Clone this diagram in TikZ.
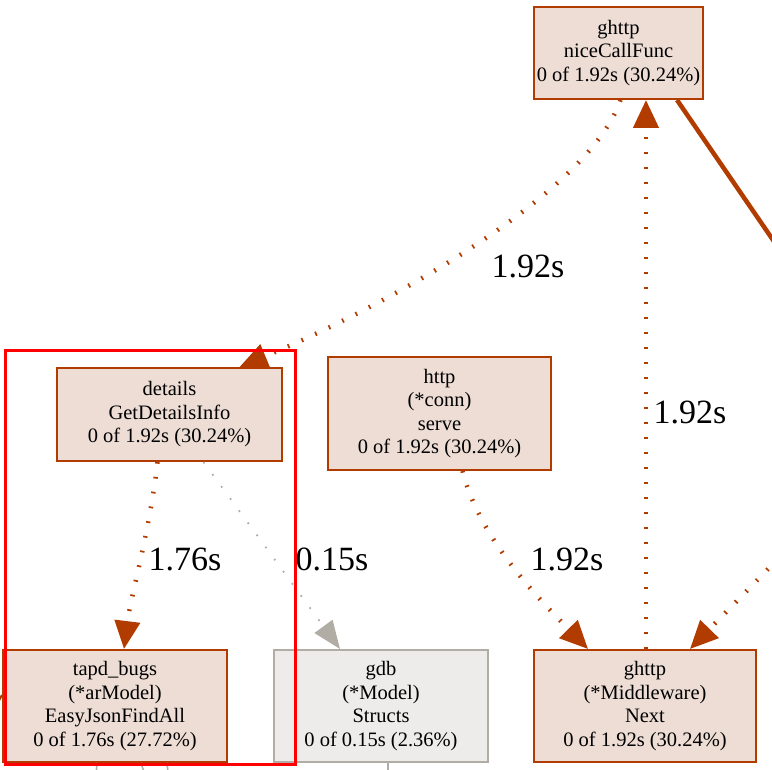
\documentclass[tikz,border=0pt]{standalone}
\usepackage{fontspec}
\setmainfont{Liberation Serif}
\usetikzlibrary{arrows.meta}
\definecolor{edgebrown}{HTML}{B23C00}
\definecolor{fillbrown}{HTML}{EDDDD5}
\definecolor{edgegray}{HTML}{B2ADA4}
\definecolor{fillgray}{HTML}{EDECEA}
\tikzset{
  fnode/.style={draw=edgebrown, fill=fillbrown, line width=2pt, inner sep=0pt, align=center,
     font=\fontsize{20.5}{23.5}\selectfont},
  gnode/.style={fnode, draw=edgegray, fill=fillgray},
  hotedge/.style={draw=edgebrown, line width=4.5pt, dash pattern=on 1.7pt off 13.3pt,
     -{Triangle[length=28pt,width=25pt]}, color=edgebrown},
  coldedge/.style={draw=edgegray, line width=1.8pt, dash pattern=on 1.7pt off 13.3pt,
     -{Triangle[length=28pt,width=22pt]}, color=edgegray},
  thickedge/.style={draw=edgebrown, line width=4.5pt},
  stub/.style={draw=edgegray, line width=1.5pt},
  elabel/.style={font=\fontsize{34}{34}\selectfont, anchor=base, inner sep=0pt},
  highlight/.style={draw=red, line width=3pt}
}
\begin{document}
\begin{tikzpicture}[x=1pt,y=-1pt]
\useasboundingbox (0,0) rectangle (772,770);
\clip (0,0) rectangle (772,770);
\fill[white] (0,0) rectangle (772,770);

% nodes
\node[fnode, minimum width=169pt, minimum height=92pt] (nice) at (618.5,53)
  {ghttp\\niceCallFunc\\0 of 1.92s (30.24\%)};
\node[fnode, minimum width=225pt, minimum height=93pt] (details) at (169.5,414.5)
  {details\\GetDetailsInfo\\0 of 1.92s (30.24\%)};
\node[fnode, minimum width=223pt, minimum height=113pt] (http) at (439.5,413.5)
  {http\\(*conn)\\serve\\0 of 1.92s (30.24\%)};
\node[fnode, minimum width=224pt, minimum height=112pt] (tapd) at (115,706)
  {tapd\_bugs\\(*arModel)\\EasyJsonFindAll\\0 of 1.76s (27.72\%)};
\node[gnode, minimum width=214pt, minimum height=112pt] (gdb) at (381,706)
  {gdb\\(*Model)\\Structs\\0 of 0.15s (2.36\%)};
\node[fnode, minimum width=222pt, minimum height=112pt] (mid) at (645,706)
  {ghttp\\(*Middleware)\\Next\\0 of 1.92s (30.24\%)};

% off-canvas ends
\coordinate (offA) at (810,294);
\coordinate (offB) at (810,526);
\coordinate (offL) at (-10,717);
\coordinate (offT1) at (95,790);
\coordinate (offT2) at (150,790);
\coordinate (offT3) at (170,790);
\coordinate (offG) at (388,790);

% edges
\draw[hotedge] ([xshift=2pt]nice.south) .. controls (590,190) and (400,300) .. ([xshift=70pt]details.north);
\node[elabel] (l1) at (528,278) {1.92s};

\draw[hotedge] ([xshift=1pt]mid.north) -- ([xshift=27.5pt]nice.south);
\node[elabel] (l2) at (690,424) {1.92s};

\draw[thickedge] ([xshift=58.5pt]nice.south) -- (offA);
\draw[hotedge] (offB) -- ([xshift=45pt]mid.north);

\draw[hotedge] ([xshift=23pt]http.south) .. controls (480,540) and (540,600) .. ([xshift=-57pt]mid.north);
\node[elabel] (l3) at (567,570) {1.92s};

\draw[hotedge] ([xshift=-12pt]details.south) .. controls (150,530) and (130,600) .. ([xshift=9pt]tapd.north);
\node[elabel] (l4) at (185,570) {1.76s};

\draw[coldedge] ([xshift=34pt]details.south) -- ([xshift=-41pt]gdb.north);
\node[elabel] (l5) at (332,570) {0.15s};

% stubs leaving the visible area
\draw[stub] ([xshift=-18pt]tapd.south) -- (offT1);
\draw[stub] ([xshift=26pt]tapd.south) -- (offT2);
\draw[stub] ([xshift=52pt]tapd.south) -- (offT3);
\draw[stub] ([xshift=7pt]gdb.south) -- (offG);
\draw[draw=edgebrown, line width=2pt] (offL) -- ([yshift=11pt]tapd.west);

% highlight box
\draw[highlight] (5,351) rectangle (295,764);
\end{tikzpicture}
\end{document}
